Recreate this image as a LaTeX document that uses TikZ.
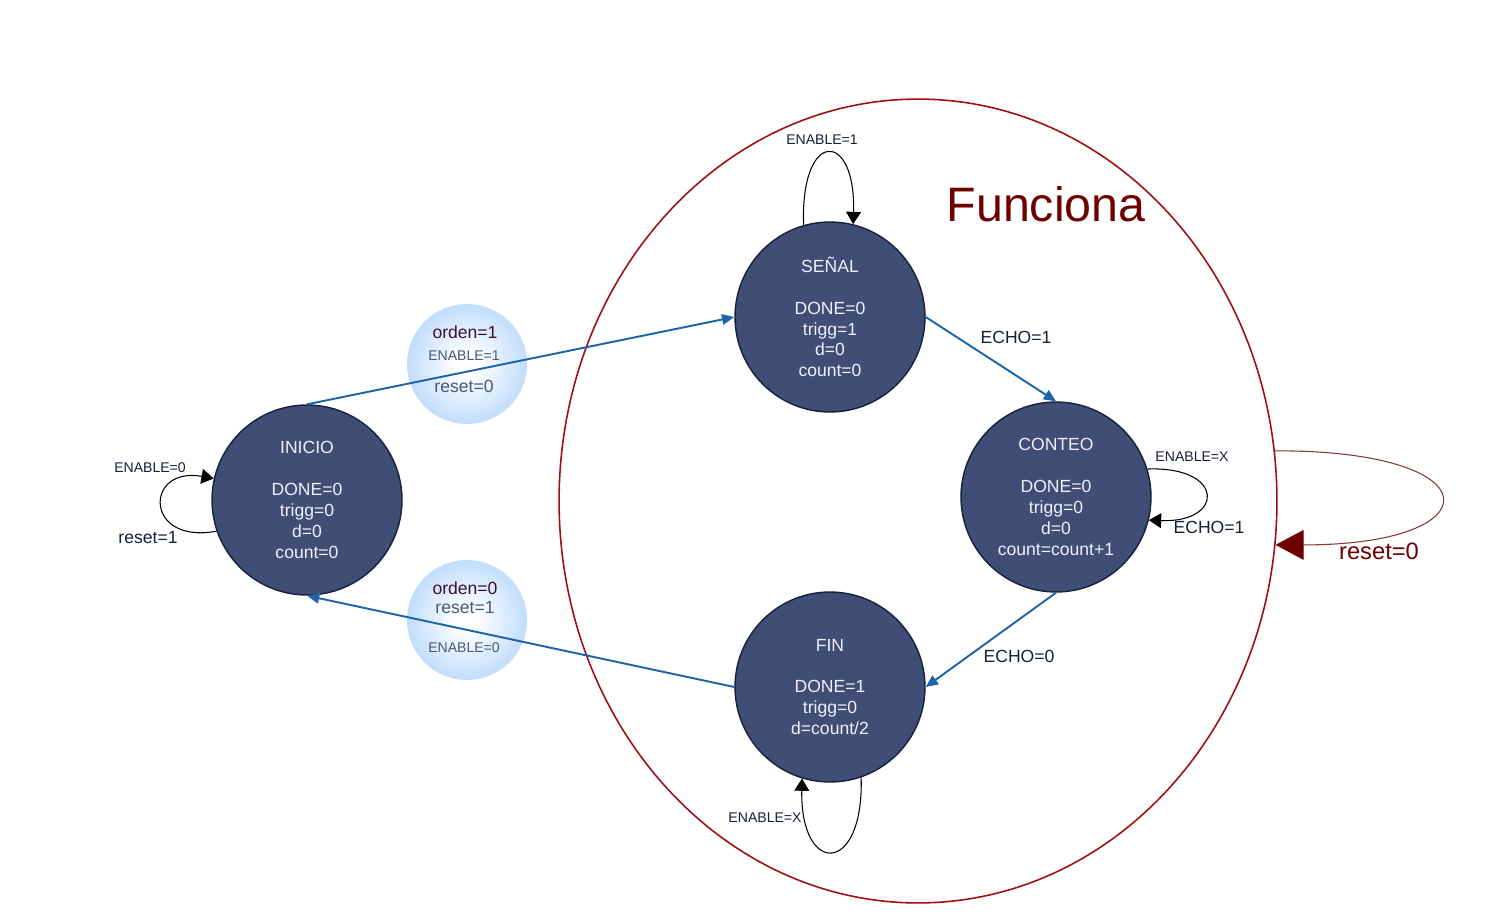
\documentclass[tikz,border=0pt]{standalone}
\usepackage{fontspec}
\setmainfont{Liberation Sans}
\usepackage{tikz}
\usetikzlibrary{arrows.meta,shapes.geometric}
\definecolor{colestado}{RGB}{64,77,117}
\definecolor{colborde}{RGB}{20,32,60}
\definecolor{colflecha}{RGB}{30,100,168}
\definecolor{vino}{RGB}{110,0,0}
\definecolor{rojo}{RGB}{160,15,15}
\definecolor{celeste}{RGB}{160,204,250}
\definecolor{tinta}{RGB}{20,30,55}
\definecolor{morado}{RGB}{60,15,55}
\definecolor{pizarra}{RGB}{72,88,122}
\pgfdeclareradialshading{burbuja}{\pgfpoint{0bp}{0bp}}{%
  color(0bp)=(white);
  color(4bp)=(white);
  color(36bp)=(celeste);
  color(50bp)=(celeste)}

\begin{document}
\begin{tikzpicture}[x=0.02cm,y=-0.02cm,
    stnode/.style={circle,fill=colestado,draw=colborde,line width=0.8pt,
      minimum size=3.8cm,inner sep=0pt,align=center,text=white!94!blue,
      font=\fontsize{10}{11.9}\selectfont},
    bubble/.style={circle,shading=burbuja,minimum size=2.4cm,inner sep=0pt},
    trans/.style={draw=colflecha,line width=1.1pt,
      -{Triangle[width=6pt,length=7pt]}},
    lazo/.style={draw=black,line width=0.6pt,
      -{Triangle[width=8.5pt,length=7pt]}},
    etiq/.style={text=tinta,inner sep=0pt,font=\fontsize{10}{12}\selectfont},
    chica/.style={text=tinta,inner sep=0pt,font=\fontsize{8}{10}\selectfont}]

  \useasboundingbox (0,0) rectangle (1501,923);

  % agrupacion de estados
  \node[ellipse,draw=rojo,line width=0.9pt,minimum width=14.36cm,
    minimum height=16.08cm,inner sep=0pt] (grupo) at (918,501) {};
  \node[text=vino,font=\fontsize{27.5}{32}\selectfont] (titulo) at (1046,204) {Funciona};

  % condiciones de paso
  \node[bubble] (b1) at (467,364) {};
  \node[bubble] (b2) at (467,620) {};
  \node[etiq,text=morado] (orden1) at (465,332) {orden=1};
  \node[chica,text=pizarra] (enable1) at (464,356) {ENABLE=1};
  \node[etiq,text=pizarra] (reset0) at (464,386) {reset=0};
  \node[etiq,text=morado] (orden0) at (465,588) {orden=0};
  \node[etiq,text=pizarra] (reset1) at (465,608) {reset=1};
  \node[chica,text=pizarra] (enable0) at (464,648) {ENABLE=0};

  % estados
  \node[stnode] (inicio) at (307,500) {INICIO\\\mbox{}\\DONE=0\\trigg=0\\d=0\\count=0};
  \node[stnode] (senal) at (830,317) {SEÑAL\\\mbox{}\\DONE=0\\trigg=1\\d=0\\count=0};
  \node[stnode] (conteo) at (1056,497) {CONTEO\\\mbox{}\\DONE=0\\trigg=0\\d=0\\count=count+1};
  \node[stnode] (fin) at (830,687) {FIN\\\mbox{}\\DONE=1\\trigg=0\\d=count/2};

  % transiciones
  \draw[trans] (inicio.north) -- (senal.west);
  \draw[trans] (senal.east) -- (conteo.north);
  \draw[trans] (conteo.south) -- (fin.east);
  \draw[trans] (fin.west) -- (inicio.south);
  \node[etiq] (echo1) at (1016,337) {ECHO=1};
  \node[etiq] (echo0) at (1019,656) {ECHO=0};

  % lazos
  \draw[lazo] (inicio.199) .. controls (144,545) and (144,466) .. (inicio.167);
  \draw[lazo] (senal.106) .. controls (800,129) and (856,129) .. (senal.76);
  \draw[lazo] (conteo.17) .. controls (1225,466) and (1225,523) .. (conteo.-14);
  \draw[lazo] (fin.-71) .. controls (864,876) and (800,876) .. (fin.-107);
  \node[chica] (enini) at (150,468) {ENABLE=0};
  \node[etiq] (rstini) at (148,538) {reset=1};
  \node[chica] (ensen) at (822,140) {ENABLE=1};
  \node[chica] (encon) at (1192,457) {ENABLE=X};
  \node[etiq] (echocon) at (1209,527) {ECHO=1};
  \node[chica] (enfin) at (765,818) {ENABLE=X};

  % reinicio
  \draw[draw=vino!80!white,line width=0.6pt,
    -{Triangle[width=17pt,length=16pt,fill=vino,color=vino]}]
    (grupo.8) .. controls (1495,450) and (1495,545) .. (grupo.-7);
  \node[etiq,text=vino,font=\fontsize{13.5}{16}\selectfont] (rst) at (1379,551) {reset=0};
\end{tikzpicture}
\end{document}
